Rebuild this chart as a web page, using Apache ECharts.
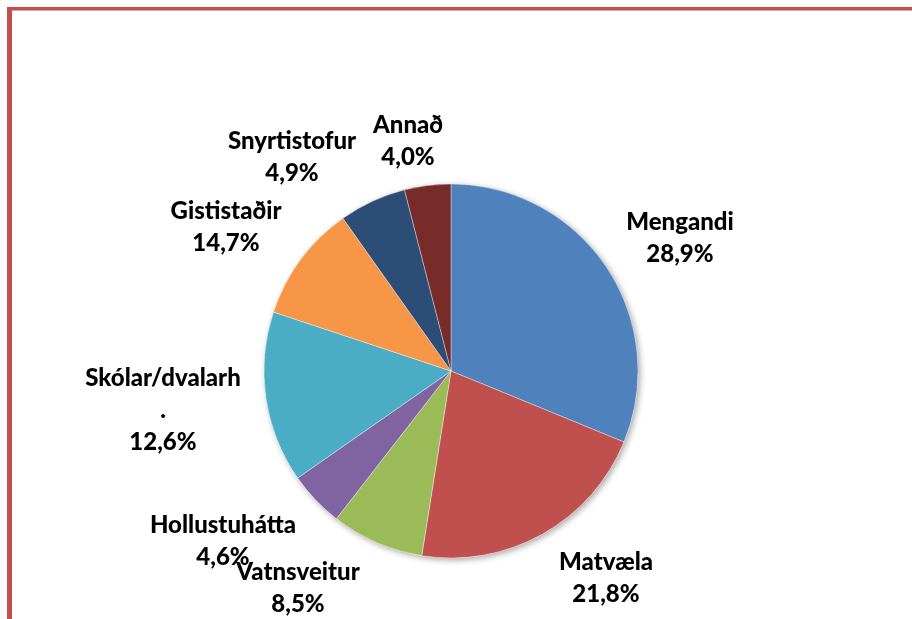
<!DOCTYPE html>
<html>
<head>
<meta charset="utf-8">
<script src="https://cdn.jsdelivr.net/npm/echarts@6/dist/echarts.min.js"></script>
<style>
  html, body { margin: 0; padding: 0; background: #fff; }
  #chart { width: 912px; height: 619px; }
</style>
</head>
<body>
<div id="chart"></div>
<script>
// slice shares as drawn, clockwise from 12 o'clock
const categories = ['Mengandi', 'Matvæla', 'Vatnsveitur', 'Hollustuhátta', 'Skólar/dvalarh.', 'Gististaðir', 'Snyrtistofur', 'Annað'];
const sliceValues = [31.2, 21.3, 8.0, 4.8, 14.8, 10.1, 5.8, 4.0];
// percentages printed in the labels
const labelPercents = [28.9, 21.8, 8.5, 4.6, 12.6, 14.7, 4.9, 4.0];

const colors = ['#4F81BD', '#C0504D', '#9BBB59', '#8064A2', '#4BACC6', '#F79646', '#2C4D75', '#772C2A'];

// label centres, placed like the original data labels
const labelPos = [
  [680, 238], [606, 578], [298, 588], [223, 541],
  [163, 410], [226, 227], [292, 157], [408, 141]
];

const chart = echarts.init(document.getElementById('chart'));

const data = categories.map((name, i) => ({ name: name, value: sliceValues[i] }));

chart.setOption({
  animation: false,
  color: colors,
  graphic: [
    { type: 'line', silent: true, shape: { x1: 9.5, y1: 7, x2: 9.5, y2: 619 }, style: { stroke: '#C0504D', lineWidth: 5 } },
    { type: 'line', silent: true, shape: { x1: 7, y1: 8.75, x2: 912, y2: 8.75 }, style: { stroke: '#C0504D', lineWidth: 3.5 } },
    // soft drop shadow behind the pie
    {
      type: 'circle', silent: true, z: -1,
      shape: { cx: 451, cy: 371, r: 187 },
      style: { fill: '#fff', shadowBlur: 6, shadowColor: 'rgba(0,0,0,0.35)', shadowOffsetX: 2, shadowOffsetY: 2 }
    }
  ],
  series: [
    {
      type: 'pie',
      center: [451, 371],
      radius: 187,
      startAngle: 90,
      clockwise: true,
      avoidLabelOverlap: false,
      itemStyle: { borderColor: 'rgba(255,255,255,0.6)', borderWidth: 0.6 },
      label: {
        show: true,
        position: 'outside',
        color: '#000',
        fontFamily: 'Lato',
        fontWeight: 900,
        fontSize: 24,
        lineHeight: 32,
        align: 'center',
        formatter: function (p) {
          const pct = labelPercents[p.dataIndex].toFixed(1).replace('.', ',') + '%';
          return p.name.replace(/h\.$/, 'h\n.') + '\n' + pct;
        }
      },
      labelLine: { show: false },
      labelLayout: function (params) {
        const p = labelPos[params.dataIndex];
        return { x: p[0], y: p[1], align: 'center', verticalAlign: 'middle', hideOverlap: false };
      },
      data: data
    }
  ]
});
</script>
</body>
</html>
